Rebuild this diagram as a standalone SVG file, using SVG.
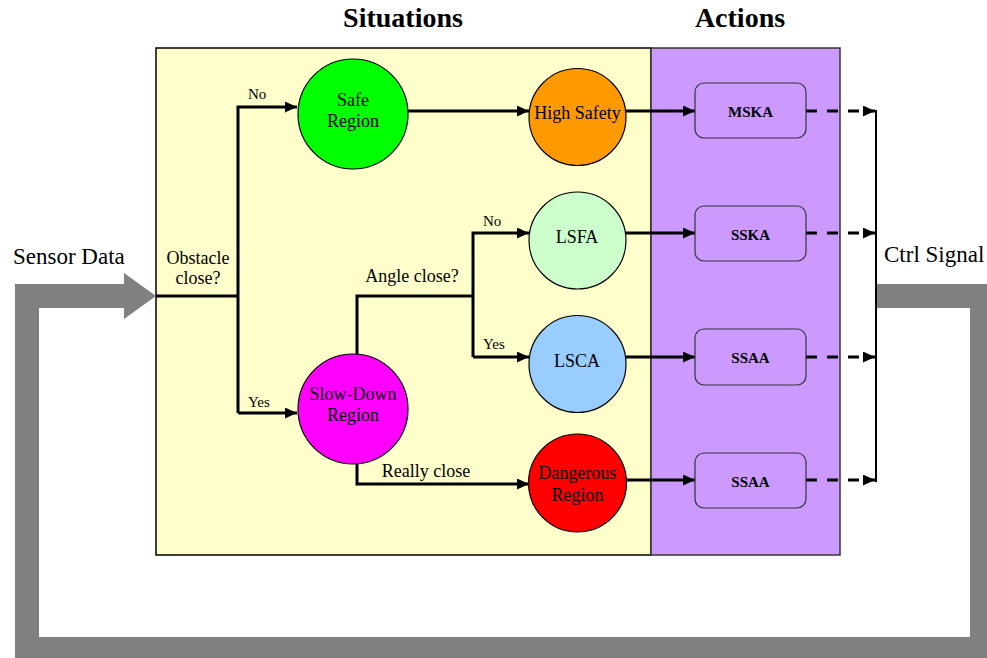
<svg xmlns="http://www.w3.org/2000/svg" width="987" height="658" viewBox="0 0 987 658">
<defs>
<style>
text{font-family:"Liberation Serif","Times New Roman",serif;fill:#000}
.t{font-size:18px;text-anchor:middle}
.s{font-size:15px}
.h{font-size:28px;font-weight:bold;text-anchor:middle}
.a{font-size:15px;font-weight:bold;text-anchor:middle}
.big{font-size:23px;font-family:"Liberation Serif",serif}
.c{stroke:#000;stroke-width:1.2}
.box{fill:#CC99FF;stroke:#333;stroke-width:1.2}
.ln{fill:none;stroke:#000;stroke-width:3}
.dash{fill:none;stroke:#000;stroke-width:3;stroke-dasharray:11 10}
</style>
<marker id="ah" markerUnits="userSpaceOnUse" markerWidth="12" markerHeight="11" refX="12" refY="5.5" orient="auto">
<path d="M0,0 L12,5.5 L0,11 z" fill="#000"/>
</marker>
</defs>
<rect width="987" height="658" fill="#fff"/>
<text class="h" x="403" y="27">Situations</text>
<text class="h" x="740" y="27">Actions</text>
<g id="situations-panel"><rect x="156" y="48" width="495" height="507" fill="#FFFFCC" stroke="#000" stroke-width="1.5"/></g>
<g id="actions-panel"><rect x="651" y="48" width="189" height="507" fill="#CC99FF" stroke="#333" stroke-width="1.5"/></g>
<g id="feedback-loop">
<path d="M876,284 L987,284 L987,658 L15,658 L15,284 L124,284 L124,273 L156,296 L124,319 L124,308 L39,308 L39,637 L970,637 L970,308 L876,308 Z" fill="#808080"/>
</g>
<text class="big" x="13" y="264" font-family="Liberation Serif, serif">Sensor Data</text>
<text class="big" x="884" y="262" font-family="Liberation Serif, serif">Ctrl Signal</text>
<g id="connectors">
<path class="ln" d="M156,296 L238,296"/>
<path class="ln" d="M238,413 L238,107 L297,107" marker-end="url(#ah)"/>
<path class="ln" d="M238,413 L297,413" marker-end="url(#ah)"/>
<path class="ln" d="M408,111 L529,111" marker-end="url(#ah)"/>
<path class="ln" d="M626,111 L695,111" marker-end="url(#ah)"/>
<path class="ln" d="M357,355 L357,296 L473,296"/>
<path class="ln" d="M473,357 L473,233 L529,233" marker-end="url(#ah)"/>
<path class="ln" d="M473,357 L529,357" marker-end="url(#ah)"/>
<path class="ln" d="M357,463 L357,484 L529,484" marker-end="url(#ah)"/>
<path class="ln" d="M626,233 L695,233" marker-end="url(#ah)"/>
<path class="ln" d="M626,357 L695,357" marker-end="url(#ah)"/>
<path class="ln" d="M626,480 L695,480" marker-end="url(#ah)"/>
<path class="dash" d="M806,111 L875,111" marker-end="url(#ah)"/>
<path class="dash" d="M806,233 L875,233" marker-end="url(#ah)"/>
<path class="dash" d="M806,357 L875,357" marker-end="url(#ah)"/>
<path class="dash" d="M806,480 L875,480" marker-end="url(#ah)"/>
<path d="M876,110 L876,482" fill="none" stroke="#000" stroke-width="2"/>
<text class="t" x="198" y="264">Obstacle</text>
<text class="t" x="198" y="284">close?</text>
<text class="s" x="248" y="99">No</text>
<text class="s" x="248" y="407">Yes</text>
<text class="t" x="412" y="282">Angle close?</text>
<text class="s" x="483" y="226">No</text>
<text class="s" x="483" y="349">Yes</text>
<text class="t" x="426" y="477">Really close</text>
</g>
<g id="safe-region"><circle class="c" cx="353" cy="114" r="55" fill="#00FF00"/><text class="t" x="353" y="106">Safe</text><text class="t" x="353" y="127">Region</text></g>
<g id="slow-down-region"><circle class="c" cx="353" cy="409" r="55" fill="#FF00FF"/><text class="t" x="353" y="400">Slow-Down</text><text class="t" x="353" y="421">Region</text></g>
<g id="high-safety"><circle class="c" cx="577.5" cy="117" r="48.5" fill="#FF9900"/><text class="t" x="577.5" y="119">High Safety</text></g>
<g id="lsfa"><circle class="c" cx="577.5" cy="240.5" r="48.5" fill="#CCFFCC"/><text class="t" x="577" y="243">LSFA</text></g>
<g id="lsca"><circle class="c" cx="577.5" cy="364" r="48.5" fill="#99CCFF"/><text class="t" x="577" y="367">LSCA</text></g>
<g id="dangerous-region"><circle class="c" cx="577.5" cy="483" r="49" fill="#FF0000"/><text class="t" x="577.5" y="479">Dangerous</text><text class="t" x="577.5" y="501">Region</text></g>
<g id="mska"><rect class="box" x="695" y="83" width="111" height="55" rx="9"/><text class="a" x="750.5" y="117">MSKA</text></g>
<g id="sska"><rect class="box" x="695" y="206" width="111" height="55" rx="9"/><text class="a" x="750.5" y="240">SSKA</text></g>
<g id="ssaa-1"><rect class="box" x="695" y="329" width="111" height="56" rx="9"/><text class="a" x="750.5" y="363">SSAA</text></g>
<g id="ssaa-2"><rect class="box" x="695" y="453" width="111" height="55" rx="9"/><text class="a" x="750.5" y="487">SSAA</text></g>
</svg>
